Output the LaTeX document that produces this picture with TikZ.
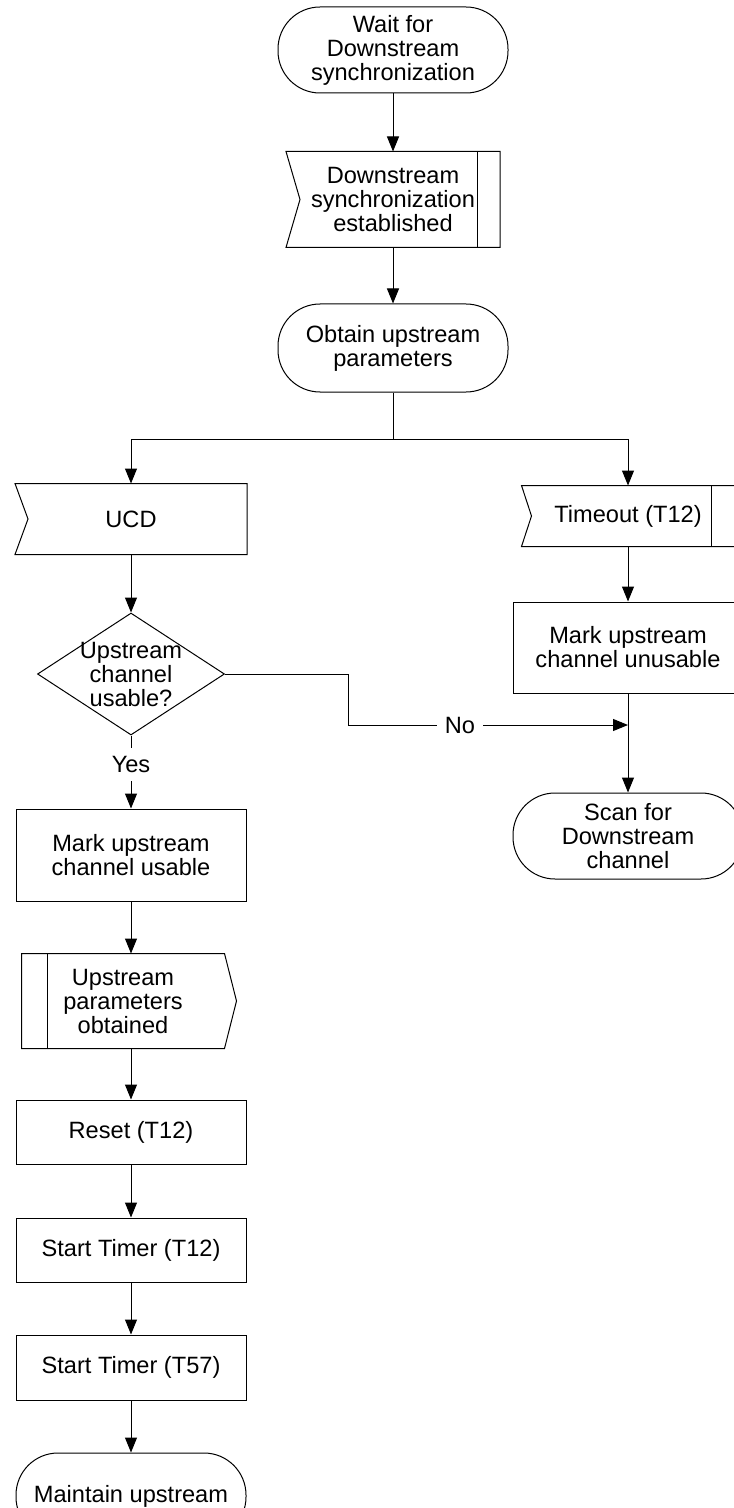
\documentclass[tikz,border=0pt]{standalone}
\usepackage{fontspec}
\setmainfont{Liberation Sans}
\usetikzlibrary{arrows.meta,shapes.geometric}
\newcommand{\fs}{\fontsize{11.8pt}{12pt}\selectfont}
\tikzset{
	base/.style={font=\fs, align=center, inner sep=1pt},
	term/.style={base, draw, rounded corners=21pt, minimum width=115pt, minimum height=43pt},
	proc/.style={base, draw, minimum width=115pt},
	sig/.style={base},
	dec/.style={draw, diamond, inner sep=0pt, minimum width=93.5pt, minimum height=61pt},
	arr/.style={-{Triangle[length=7.5pt,width=6pt]}},
	lbl/.style={font=\fs, fill=white, inner sep=4pt},
}
\begin{document}
\begin{tikzpicture}[x=0.5pt, y=-0.5pt, line width=0.5pt]
	\useasboundingbox (0,0) rectangle (733,1508);
	\node[term] at (393,50) (start) {Wait for\\Downstream\\synchronization};
	\node[sig, minimum width=106.5pt, minimum height=47.5pt] at (393,199.5) (sync) {Downstream\\synchronization\\established};
	\node[term, minimum height=44pt] at (393,348) (obtain) {Obtain upstream\\parameters};
	\coordinate (split) at (393,439);
	\node[sig, minimum width=115.5pt, minimum height=35pt] at (131,519) (ucd) {UCD};
	\node[sig, minimum width=106pt, minimum height=30pt] at (628,516) (timeout) {Timeout (T12)};
	\node[dec, label={[base]center:Upstream\\channel\\usable?}] at (131,674) (ask) {};
	\node[proc, minimum height=45.5pt] at (628,647.5) (unusable) {Mark upstream\\channel unusable};
	\node[term] at (628,836) (scan) {Scan for\\Downstream\\channel};
	\node[proc, minimum height=46pt] at (131,855) (usable) {Mark upstream\\channel usable};
	\node[sig, minimum width=101pt, minimum height=47pt] at (123,1001) (params) {Upstream\\parameters\\obtained};
	\node[proc, minimum height=32pt] at (131,1132) (reset) {Reset (T12)};
	\node[proc, minimum height=32pt] at (131,1250) (timer12) {Start Timer (T12)};
	\node[proc, minimum height=32.5pt] at (131,1367.5) (timer57) {Start Timer (T57)};
	\node[term] at (131,1496) (maint) {Maintain upstream};
	\coordinate (nobend) at (348,725);
	\coordinate (nojoin) at (unusable |- nobend);

	% signal outlines
	\draw (sync.north west) -- (sync.north east) -- (sync.south east) -- (sync.south west) -- ([xshift=7pt]sync.west) -- cycle;
	\draw ([xshift=-11.5pt]sync.north east) -- ([xshift=-11.5pt]sync.south east);
	\draw (ucd.north west) -- (ucd.north east) -- (ucd.south east) -- (ucd.south west) -- ([xshift=6.5pt]ucd.west) -- cycle;
	\draw (timeout.north west) -- (timeout.north east) -- (timeout.south east) -- (timeout.south west) -- ([xshift=5pt]timeout.west) -- cycle;
	\draw ([xshift=-11.5pt]timeout.north east) -- ([xshift=-11.5pt]timeout.south east);
	\draw (params.north west) -- (params.north east) -- ([xshift=6pt]params.east) -- (params.south east) -- (params.south west) -- cycle;
	\draw ([xshift=13pt]params.north west) -- ([xshift=13pt]params.south west);

	\draw[arr] (start) -- (sync);
	\draw[arr] (sync) -- (obtain);
	\draw (obtain) -- (split);
	\draw[arr] (split) -| (ucd);
	\draw[arr] (split) -| (timeout);
	\draw[arr] (ucd) -- (ask);
	\draw[arr] (timeout) -- (unusable);
	\draw[arr] (unusable) -- (scan);
	\draw[arr] (ask) -- node[lbl, pos=0.4] {Yes} (usable);
	\draw[arr] (ask.east) -| (nobend) -- node[lbl, pos=0.4] {No} (nojoin);
	\draw[arr] (usable) -- (usable |- params.north);
	\draw[arr] (params.south -| reset) -- (reset);
	\draw[arr] (reset) -- (timer12);
	\draw[arr] (timer12) -- (timer57);
	\draw[arr] (timer57) -- (maint);
\end{tikzpicture}
\end{document}
